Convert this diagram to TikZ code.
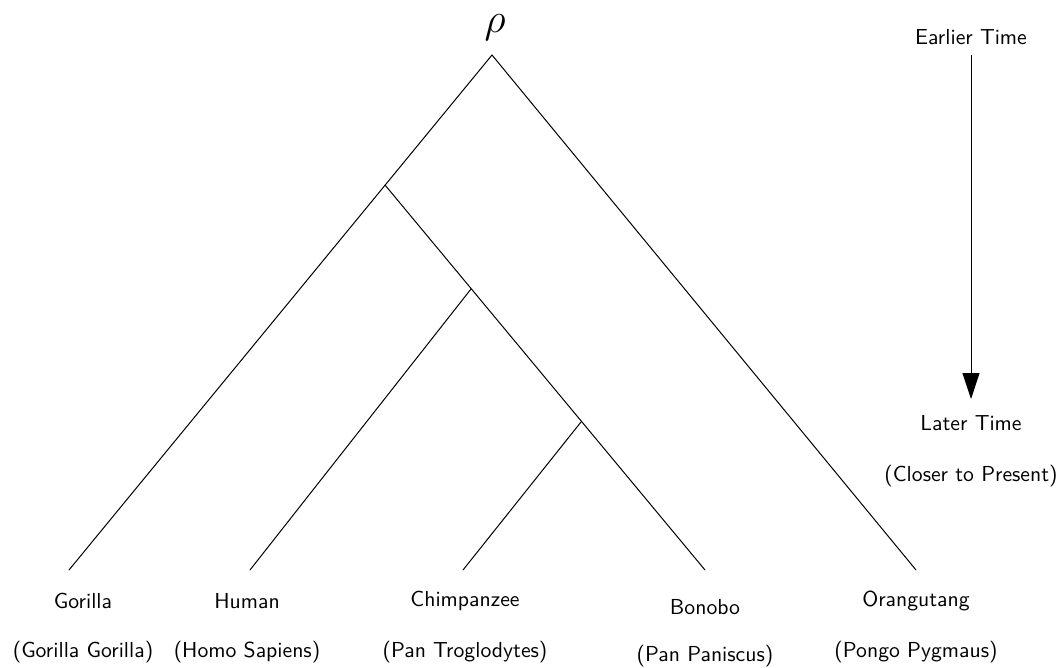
\documentclass[tikz,border=0pt]{standalone}
\usetikzlibrary{arrows.meta}
\begin{document}
\begin{tikzpicture}[x=0.5pt,y=-0.5pt,
  every node/.style={font=\sffamily\fontsize{10.85}{13}\selectfont, inner sep=0pt},
  branch/.style={line width=0.5pt, line cap=round},
  timearrow/.style={line width=0.5pt, -{Triangle[length=13pt,width=8.5pt]}}]
\useasboundingbox (0,0) rectangle (1064,668);

% tree junctions
\coordinate (root) at (492,55);
\coordinate (a) at (385,185);
\coordinate (b) at (471,289);
\coordinate (c) at (581,422);

% branch tips
\coordinate (tg) at (69,570);
\coordinate (th) at (250,570);
\coordinate (tc) at (463,570);
\coordinate (tb) at (705,570);
\coordinate (to) at (916,570);

\node (rho) at (495,28) {\fontsize{20}{24}\selectfont$\rho$};

\draw[branch] (tg) -- (root) -- (to);
\draw[branch] (a) -- (tb);
\draw[branch] (b) -- (th);
\draw[branch] (c) -- (tc);

% species labels
\node (gor) at (83,601) {Gorilla};
\node (gorl) at (83,652) {(Gorilla Gorilla)};
\node (hum) at (247,601) {Human};
\node (huml) at (247,652) {(Homo Sapiens)};
\node (chi) at (465,601) {Chimpanzee};
\node (chil) at (465,652) {(Pan Troglodytes)};
\node (bon) at (705,607) {Bonobo};
\node (bonl) at (705,656) {(Pan Paniscus)};
\node (ora) at (916,601) {Orangutang};
\node (oral) at (916,652) {(Pongo Pygmaus)};

% time axis
\node (early) at (971,37) {Earlier Time};
\node (late) at (971,423) {Later Time};
\node (present) at (971,476) {(Closer to Present)};
\coordinate (ts) at (971,55);
\coordinate (te) at (971,399);
\draw[timearrow] (ts) -- (te);
\end{tikzpicture}
\end{document}
